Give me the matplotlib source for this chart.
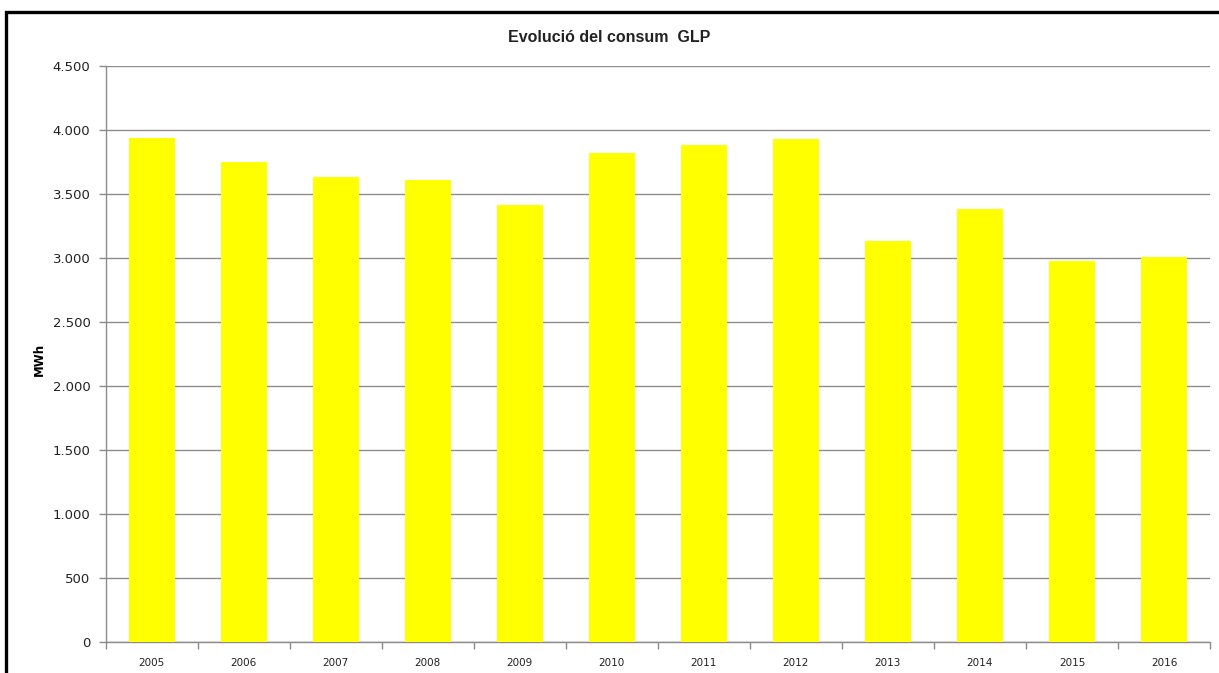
import matplotlib
matplotlib.use("Agg")
import matplotlib.pyplot as plt
from matplotlib.patches import Rectangle
from matplotlib.ticker import FuncFormatter

years = ["2005", "2006", "2007", "2008", "2009", "2010",
         "2011", "2012", "2013", "2014", "2015", "2016"]
consum_mwh = [3933, 3745, 3628, 3609, 3412, 3816,
              3880, 3930, 3133, 3383, 2977, 3008]
y_ticks = [0, 500, 1000, 1500, 2000, 2500, 3000, 3500, 4000, 4500]

W, H = 1219, 673
fig = plt.figure(figsize=(W / 100, H / 100), dpi=100)
ax = fig.add_axes([105.7 / W, 1 - 641.7 / H, (1210 - 105.7) / W, (641.7 - 65.7) / H])

x = list(range(len(years)))
ax.bar(x, consum_mwh, width=0.5, color="#FFFF00", zorder=3)

ax.set_xlim(-0.5, len(years) - 0.5)
ax.set_ylim(0, 4500)
ax.set_yticks(y_ticks)
ax.yaxis.set_major_formatter(FuncFormatter(lambda v, p: f"{int(v):,}".replace(",", ".")))
ax.grid(axis="y", color="#8c8c8c", linewidth=1.0, zorder=1)

ax.set_xticks(x)
ax.set_xticklabels(years, fontsize=7.5, color="#222222")
ax.set_xticks([i - 0.5 for i in range(len(years) + 1)], minor=True)
ax.tick_params(axis="x", which="major", length=0, pad=12)
ax.tick_params(axis="x", which="minor", length=5, width=1, color="#8c8c8c", direction="out")
ax.tick_params(axis="y", length=5, width=1, color="#8c8c8c", labelsize=9.5, labelcolor="#222222", pad=6)

for s in ["top", "right"]:
    ax.spines[s].set_visible(False)
for s in ["left", "bottom"]:
    ax.spines[s].set_color("#8c8c8c")
    ax.spines[s].set_linewidth(1.0)

ax.set_ylabel("MWh", fontsize=8.5, fontweight="bold")
ax.yaxis.set_label_coords(-0.054, 0.49)

fig.text(0.5, 1 - 37 / H, "Evolució del consum  GLP", ha="center", va="center",
         fontsize=11.5, fontweight="bold", family=["Liberation Sans", "DejaVu Sans"], color="#222222")

# outer frame (continues past the right and bottom edges)
fig.patches.append(Rectangle((6 / W, -0.05), 1.1, (H - 12) / H + 0.05, transform=fig.transFigure,
                             fill=False, edgecolor="black", linewidth=2.4, zorder=10))

fig.savefig("out.png", dpi=100)
